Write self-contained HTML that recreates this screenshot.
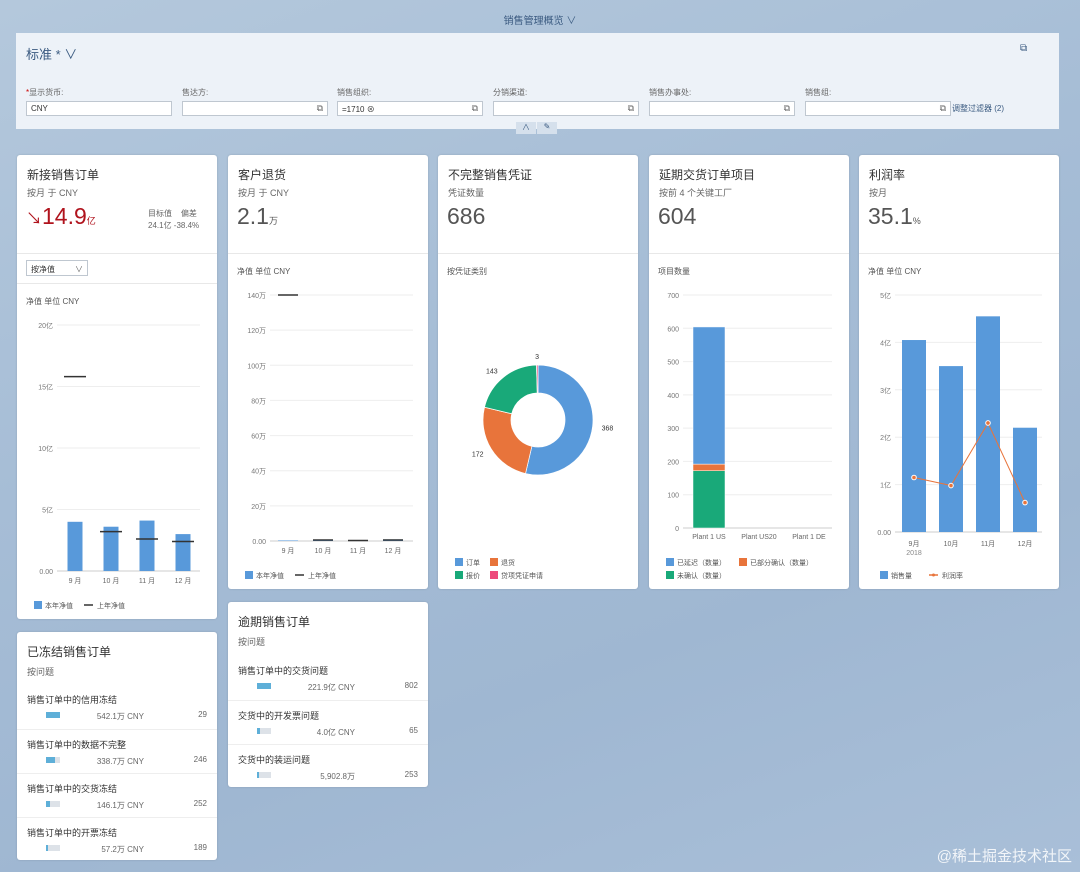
<!DOCTYPE html>
<html><head><meta charset="utf-8">
<style>
*{margin:0;padding:0;box-sizing:border-box}
body{width:1080px;height:872px;overflow:hidden;position:relative;font-family:"Liberation Sans","Noto Sans CJK SC",sans-serif;color:#333;
background:linear-gradient(160deg,#b4c8dc 0%,#a6bdd6 40%,#9fb7d2 70%,#a9bfd8 100%)}
.abs{position:absolute}
.card{position:absolute;background:#fff;border-radius:3px;box-shadow:0 0 2px rgba(0,0,0,.15)}
.t{position:absolute;white-space:nowrap}
.title{font-size:12px;color:#333;left:10px;top:11px}
.sub{font-size:9px;color:#666;left:10px;top:31px}
.big{font-size:23px;color:#555;left:9px;top:48px}
.sep{position:absolute;left:0;right:0;height:1px;background:#e8e8e8}
.lbl{font-size:8px;color:#555}
.inp{position:absolute;height:15px;top:68px;background:#fff;border:1px solid #bfc7d0;font-size:8px;padding:2px 4px;color:#333}
.inp .ic{position:absolute;right:4px;top:1px;font-size:9px;color:#666}
.flab{position:absolute;top:54px;font-size:8px;color:#666}
</style></head><body>
<div class="t" style="left:0;width:1080px;text-align:center;top:12px;font-size:10px;color:#3a5a80">销售管理概览 ∨</div>

<div class="abs" style="left:16px;top:33px;width:1043px;height:96px;background:#edf2f8">
  <div class="t" style="left:10px;top:11px;font-size:13px;color:#3a5a80">标准 * ∨</div>
  <div class="t" style="left:1004px;top:10px;font-size:10px;color:#3a5a80">⧉</div>
  <div class="flab" style="left:10px"><span style="color:#c00">*</span>显示货币:</div>
  <div class="inp" style="left:10px;width:146px">CNY</div>
  <div class="flab" style="left:166px">售达方:</div>
  <div class="inp" style="left:166px;width:146px"><span class="ic">⧉</span></div>
  <div class="flab" style="left:321px">销售组织:</div>
  <div class="inp" style="left:321px;width:146px">=1710 ⊗<span class="ic">⧉</span></div>
  <div class="flab" style="left:477px">分销渠道:</div>
  <div class="inp" style="left:477px;width:146px"><span class="ic">⧉</span></div>
  <div class="flab" style="left:633px">销售办事处:</div>
  <div class="inp" style="left:633px;width:146px"><span class="ic">⧉</span></div>
  <div class="flab" style="left:789px">销售组:</div>
  <div class="inp" style="left:789px;width:146px"><span class="ic">⧉</span></div>
  <div class="t" style="left:936px;top:70px;font-size:8px;color:#3a5a80">调整过滤器 (2)</div>
  <div class="abs" style="left:500px;top:89px;width:20px;height:12px;background:#d5e0ec;font-size:8px;text-align:center;color:#3a5a80">∧</div>
  <div class="abs" style="left:521px;top:89px;width:20px;height:12px;background:#d5e0ec;font-size:8px;text-align:center;color:#3a5a80">✎</div>
</div>

<!-- Card 1 -->
<div class="card" style="left:17px;top:155px;width:200px;height:464px">
  <div class="t title">新接销售订单</div>
  <div class="t sub">按月 于 CNY</div>
  <div class="t big" style="color:#b0131d"><span style="font-size:16px">↘</span>14.9<span style="font-size:9px;color:#b0131d">亿</span></div>
  <div class="t lbl" style="left:131px;top:53px;color:#666">目标值 &nbsp;&nbsp;&nbsp;偏差</div>
  <div class="t lbl" style="left:131px;top:65px;color:#666">24.1亿 -38.4%</div>
  <div class="sep" style="top:98px"></div>
  <div class="abs" style="left:9px;top:105px;width:62px;height:16px;border:1px solid #bfc7d0;font-size:8px;padding:3px 4px">按净值 <span style="float:right;color:#666">∨</span></div>
  <div class="sep" style="top:128px"></div>
  <div class="t lbl" style="left:9px;top:141px">净值 单位 CNY</div>
  <svg id="c1" class="abs" style="left:0;top:0" width="200" height="464"></svg>
</div>

<!-- Card 2 -->
<div class="card" style="left:228px;top:155px;width:200px;height:434px">
  <div class="t title">客户退货</div>
  <div class="t sub">按月 于 CNY</div>
  <div class="t big">2.1<span style="font-size:9px">万</span></div>
  <div class="sep" style="top:98px"></div>
  <div class="t lbl" style="left:9px;top:111px">净值 单位 CNY</div>
  <svg id="c2" class="abs" style="left:0;top:0" width="200" height="434"></svg>
</div>

<!-- Card 3 -->
<div class="card" style="left:438px;top:155px;width:200px;height:434px">
  <div class="t title">不完整销售凭证</div>
  <div class="t sub">凭证数量</div>
  <div class="t big">686</div>
  <div class="sep" style="top:98px"></div>
  <div class="t lbl" style="left:9px;top:111px">按凭证类别</div>
  <svg id="c3" class="abs" style="left:0;top:0" width="200" height="434"></svg>
</div>

<!-- Card 4 -->
<div class="card" style="left:649px;top:155px;width:200px;height:434px">
  <div class="t title">延期交货订单项目</div>
  <div class="t sub">按前 4 个关键工厂</div>
  <div class="t big">604</div>
  <div class="sep" style="top:98px"></div>
  <div class="t lbl" style="left:9px;top:111px">项目数量</div>
  <svg id="c4" class="abs" style="left:0;top:0" width="200" height="434"></svg>
</div>

<!-- Card 5 -->
<div class="card" style="left:859px;top:155px;width:200px;height:434px">
  <div class="t title">利润率</div>
  <div class="t sub">按月</div>
  <div class="t big">35.1<span style="font-size:9px">%</span></div>
  <div class="sep" style="top:98px"></div>
  <div class="t lbl" style="left:9px;top:111px">净值 单位 CNY</div>
  <svg id="c5" class="abs" style="left:0;top:0" width="200" height="434"></svg>
</div>

<!-- Frozen card -->
<div class="card" style="left:17px;top:632px;width:200px;height:228px">
  <div class="t title" style="top:11px">已冻结销售订单</div>
  <div class="t sub" style="top:33px">按问题</div>
  <div id="frozen"></div>
</div>

<!-- Overdue card -->
<div class="card" style="left:228px;top:602px;width:200px;height:185px">
  <div class="t title" style="top:11px">逾期销售订单</div>
  <div class="t sub" style="top:33px">按问题</div>
  <div id="overdue"></div>
</div>

<script>
const NS='http://www.w3.org/2000/svg';
function el(p,tag,a,txt){const e=document.createElementNS(NS,tag);for(const k in a)e.setAttribute(k,a[k]);if(txt!==undefined)e.textContent=txt;p.appendChild(e);return e;}
const FONT='Liberation Sans, Noto Sans CJK SC, sans-serif';

// Card 1 data
const c1Months=['9 月','10 月','11 月','12 月'];
const c1Current=[4.0,3.6,4.1,3.0];
const c1Previous=[15.8,3.2,2.6,2.4];
const c1Ticks=[0,5,10,15,20];
const c1TickLabels=['0.00','5亿','10亿','15亿','20亿'];
// Card 2 data
const c2Months=['9 月','10 月','11 月','12 月'];
const c2Current=[0.3,0.5,0.4,0.9];
const c2Previous=[140,0.6,0.3,0.6];
const c2Ticks=[0,20,40,60,80,100,120,140];
const c2TickLabels=['0.00','20万','40万','60万','80万','100万','120万','140万'];
// Card 3 data
const c3Cats=['订单','退货','报价','贷项凭证申请'];
const c3Values=[368,172,143,3];
const c3Colors=['#5899da','#e8743b','#19a979','#ed4a7b'];
// Card 4 data
const c4Plants=['Plant 1 US','Plant US20','Plant 1 DE'];
const c4Delayed=[412,0,0];
const c4Partial=[20,0,0];
const c4Unconfirmed=[172,0,0];
const c4Ticks=[0,100,200,300,400,500,600,700];
// Card 5 data
const c5Months=['9月','10月','11月','12月'];
const c5Sales=[4.05,3.5,4.55,2.2];
const c5Margin=[1.15,0.98,2.3,0.62];
const c5Ticks=[0,1,2,3,4,5];
const c5TickLabels=['0.00','1亿','2亿','3亿','4亿','5亿'];
// list data
const frozenLabels=['销售订单中的信用冻结','销售订单中的数据不完整','销售订单中的交货冻结','销售订单中的开票冻结'];
const frozenAmounts=['542.1万 CNY','338.7万 CNY','146.1万 CNY','57.2万 CNY'];
const frozenCounts=[29,246,252,189];
const frozenShare=[1.0,0.62,0.27,0.11];
const overdueLabels=['销售订单中的交货问题','交货中的开发票问题','交货中的装运问题'];
const overdueAmounts=['221.9亿 CNY','4.0亿 CNY','5,902.8万'];
const overdueCounts=[802,65,253];
const overdueShare=[1.0,0.2,0.15];

function axis(svg,x0,x1,y0,y1,ticks,labels,max,name){
  const y=v=>y0-(v/max)*(y0-y1);
  ticks.forEach((t,i)=>{
    const g=el(svg,'line',{x1:x0,x2:x1,y1:y(t),y2:y(t),stroke:i===0?'#ccc':'#eee','stroke-width':1});
    
    
    const tx=el(svg,'text',{x:x0-4,y:y(t)+3,'text-anchor':'end','font-size':7,fill:'#777','font-family':FONT},labels[i]);
    
    
  });
  return y;
}
function xlabels(svg,cats,xs,yy,name){
  cats.forEach((c,i)=>{const t=el(svg,'text',{x:xs(i),y:yy,'text-anchor':'middle','font-size':7,fill:'#666','font-family':FONT},c);
    
    });
}
function legendBox(svg,x,y,color,label,name){
  const r=el(svg,'rect',{x:x,y:y-6,width:8,height:8,fill:color});
  
  
  const t=el(svg,'text',{x:x+11,y:y+1,'font-size':7,fill:'#555','font-family':FONT},label);
  
  
}
function legendLine(svg,x,y,color,label,name,dot){
  const l=el(svg,'line',{x1:x,x2:x+9,y1:y-2,y2:y-2,stroke:color,'stroke-width':1.5});
  
  
  if(dot)el(svg,'circle',{cx:x+4.5,cy:y-2,r:1.5,fill:color});
  const t=el(svg,'text',{x:x+13,y:y+1,'font-size':7,fill:'#555','font-family':FONT},label);
  
  
}

// Card 1
(function(){const s=document.getElementById('c1');
  const y=axis(s,40,183,416,170,c1Ticks,c1TickLabels,20,'c1');
  const xs=i=>58+i*36;
  c1Current.forEach((v,i)=>{const r=el(s,'rect',{x:xs(i)-7.5,y:y(v),width:15,height:416-y(v),fill:'#5899da'});
    
    });
  c1Previous.forEach((v,i)=>{const l=el(s,'line',{x1:xs(i)-11,x2:xs(i)+11,y1:y(v),y2:y(v),stroke:'#333','stroke-width':1.5});
    
    });
  xlabels(s,c1Months,xs,428,'c1');
  legendBox(s,17,452,'#5899da','本年净值','c1');
  legendLine(s,67,452,'#333','上年净值','c1');
})();
// Card 2
(function(){const s=document.getElementById('c2');
  const y=axis(s,42,185,386,140,c2Ticks,c2TickLabels,140,'c2');
  const xs=i=>60+i*35;
  c2Current.forEach((v,i)=>{const r=el(s,'rect',{x:xs(i)-10,y:y(v),width:20,height:386-y(v),fill:'#5899da'});
    
    });
  c2Previous.forEach((v,i)=>{const l=el(s,'line',{x1:xs(i)-10,x2:xs(i)+10,y1:y(v),y2:y(v),stroke:'#333','stroke-width':1.5});
    
    });
  xlabels(s,c2Months,xs,398,'c2');
  legendBox(s,17,422,'#5899da','本年净值','c2');
  legendLine(s,67,422,'#333','上年净值','c2');
})();
// Card 3 donut
(function(){const s=document.getElementById('c3');
  const cx=100,cy=265,R=55,r=27;const tot=c3Values.reduce((a,b)=>a+b,0);
  let a0=0;
  c3Values.forEach((v,i)=>{const a1=a0+v/tot*2*Math.PI;
    const p=(a,rr)=>[cx+rr*Math.sin(a),cy-rr*Math.cos(a)];
    const [x1,y1]=p(a0,R),[x2,y2]=p(a1,R),[x3,y3]=p(a1,r),[x4,y4]=p(a0,r);const lg=(a1-a0)>Math.PI?1:0;
    const pa=el(s,'path',{d:`M${x1},${y1}A${R},${R} 0 ${lg} 1 ${x2},${y2}L${x3},${y3}A${r},${r} 0 ${lg} 0 ${x4},${y4}Z`,fill:c3Colors[i],stroke:'#fff','stroke-width':0.7});
    
    
    const am=(a0+a1)/2;const [lx,ly]=p(am,R+9);
    const t=el(s,'text',{x:lx,y:ly+3,'text-anchor':Math.sin(am)>0.3?'start':(Math.sin(am)<-0.3?'end':'middle'),'font-size':7,fill:'#333','font-family':FONT},v);
    
    
    a0=a1;});
  legendBox(s,17,409,c3Colors[0],c3Cats[0],'c3');
  legendBox(s,52,409,c3Colors[1],c3Cats[1],'c3');
  legendBox(s,17,422,c3Colors[2],c3Cats[2],'c3');
  legendBox(s,52,422,c3Colors[3],c3Cats[3],'c3');
})();
// Card 4
(function(){const s=document.getElementById('c4');
  const y=axis(s,34,183,373,140,c4Ticks,c4Ticks.map(String),700,'c4');
  const xs=i=>60+i*50;
  c4Plants.forEach((p,i)=>{let base=0;
    [[c4Unconfirmed,'#19a979'],[c4Partial,'#e8743b'],[c4Delayed,'#5899da']].forEach(([arr,col])=>{
      const v=arr[i];if(v>0){const r=el(s,'rect',{x:xs(i)-16,y:y(base+v),width:32,height:y(base)-y(base+v),fill:col,stroke:'#fff','stroke-width':0.5});
      
      }
      base+=v;});
  });
  xlabels(s,c4Plants,xs,384,'c4');
  legendBox(s,17,409,'#5899da','已延迟（数量）','c4');
  legendBox(s,90,409,'#e8743b','已部分确认（数量）','c4');
  legendBox(s,17,422,'#19a979','未确认（数量）','c4');
})();
// Card 5
(function(){const s=document.getElementById('c5');
  const y=axis(s,36,183,377,140,c5Ticks,c5TickLabels,5,'c5');
  const xs=i=>55+i*37;
  c5Sales.forEach((v,i)=>{const r=el(s,'rect',{x:xs(i)-12,y:y(v),width:24,height:377-y(v),fill:'#5899da'});
    
    });
  const pl=el(s,'polyline',{points:c5Margin.map((v,i)=>xs(i)+','+y(v)).join(' '),fill:'none',stroke:'#e8743b','stroke-width':1});
  
  
  c5Margin.forEach((v,i)=>{const c=el(s,'circle',{cx:xs(i),cy:y(v),r:2.3,fill:'#e8743b',stroke:'#fff','stroke-width':1});
    
    });
  xlabels(s,c5Months,xs,391,'c5');
  const yr=el(s,'text',{x:xs(0),y:400,'text-anchor':'middle','font-size':7,fill:'#888','font-family':FONT},'2018');
  
  
  legendBox(s,21,422,'#5899da','销售量','c5');
  legendLine(s,70,422,'#e8743b','利润率','c5',true);
})();

function buildList(id,labels,amounts,counts,shares,top0,pitch,name){
  const host=document.getElementById(id);
  labels.forEach((l,i)=>{
    const top=top0+i*pitch;
    const row=document.createElement('div');
    
    
    row.style.cssText=`position:absolute;left:0;width:200px;top:${top}px;height:${pitch}px;${i>0?'border-top:1px solid #eee':''}`;
    const w=Math.max(2,14*shares[i]);
    row.innerHTML=`<div class="t" style="left:10px;top:8px;font-size:9px;color:#333">${l}</div>
    <div class="abs" style="left:29px;top:27px;width:14px;height:6px;background:#dde2e8"></div>
    <div class="abs" style="left:29px;top:27px;width:${w}px;height:6px;background:#5eafd8"></div>
    <div class="t" style="right:73px;top:26px;font-size:8px;color:#666">${amounts[i]}</div>
    <div class="t" style="right:10px;top:25px;font-size:8px;color:#666">${counts[i]}</div>`;
    host.appendChild(row);
  });
}
buildList('frozen',frozenLabels,frozenAmounts,frozenCounts,frozenShare,53,44,'blocked');
buildList('overdue',overdueLabels,overdueAmounts,overdueCounts,overdueShare,54,44,'overdue');
</script>
<div class="t" style="right:8px;bottom:6px;font-size:15px;color:rgba(255,255,255,.85)">@稀土掘金技术社区</div>
</body></html>
